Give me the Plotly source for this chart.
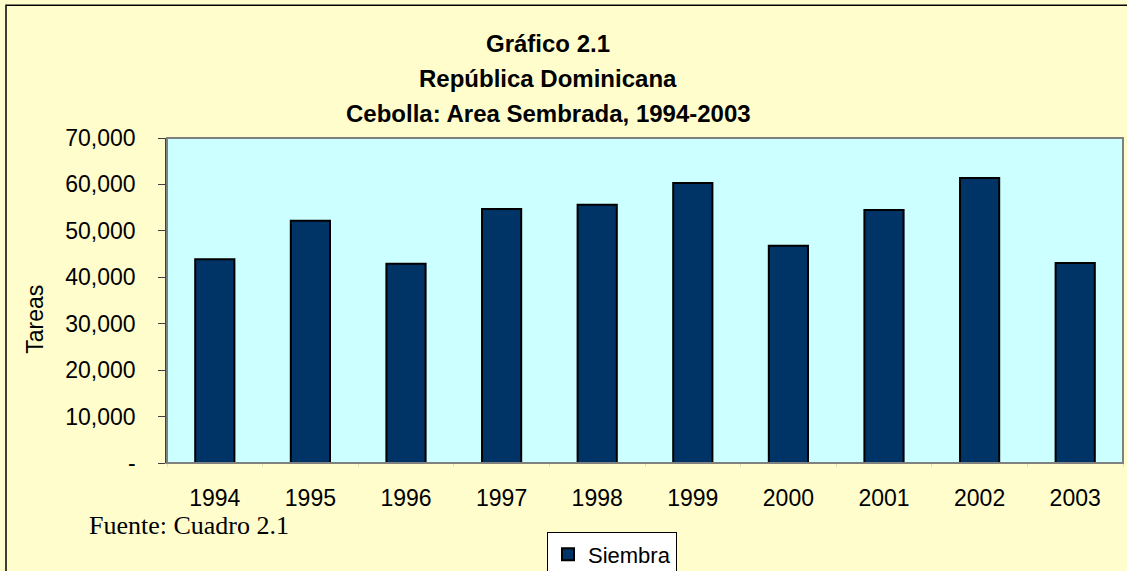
import plotly.graph_objects as go

years = ["1994", "1995", "1996", "1997", "1998", "1999", "2000", "2001", "2002", "2003"]
siembra = [43900, 52200, 42900, 54700, 55600, 60300, 46800, 54500, 61400, 43100]
y_tick_vals = [0, 10000, 20000, 30000, 40000, 50000, 60000, 70000]
y_tick_text = ["-", "10,000", "20,000", "30,000", "40,000", "50,000", "60,000", "70,000"]

W, H = 1127, 571
L, R, T, B = 167, 1123, 138, 463.5
pw, ph = R - L, B - T

def px(x):
    return (x - L) / pw

def py(y):
    return (B - y) / ph

FONT = "Liberation Sans, Arial"

fig = go.Figure()
fig.add_trace(go.Bar(
    x=years, y=siembra, name="Siembra",
    marker=dict(color="#003366", line=dict(color="#000000", width=2)),
    width=0.41,
))

fig.update_layout(
    width=W, height=H,
    margin=dict(l=L, r=W - R, t=T, b=H - B, pad=0, autoexpand=False),
    paper_bgcolor="#FFFDCC",
    plot_bgcolor="#CCFFFF",
    font=dict(family=FONT, size=23, color="#000000"),
    showlegend=True,
    legend=dict(
        x=px(547), y=py(533), xanchor="left", yanchor="top",
        orientation="h", bgcolor="#FFFFFF", bordercolor="#000000", borderwidth=1,
        font=dict(family=FONT, size=22, color="#000000"),
        itemsizing="constant", itemwidth=30, tracegroupgap=0,
    ),
)

fig.update_xaxes(
    type="category", range=[-0.5, 9.5],
    showline=True, linecolor="#A0A0A0", linewidth=1,
    ticks="outside", tickson="boundaries", ticklen=3, tickcolor="#E0E0C0",
    tickfont=dict(size=23), showgrid=False,
    ticklabelstandoff=14,
)
fig.update_yaxes(
    range=[0, 70000], tickvals=y_tick_vals, ticktext=y_tick_text,
    showline=True, linecolor="#404040", linewidth=1.5,
    ticks="outside", ticklen=7, tickcolor="#404040",
    tickfont=dict(size=23), showgrid=False, zeroline=False,
    ticklabelstandoff=18,
)

# plot-area border
fig.add_shape(type="rect", xref="paper", yref="paper", x0=0, y0=0, x1=1, y1=1,
              line=dict(color="#808080", width=2), layer="above")
# outer chart border
fig.add_shape(type="rect", xref="paper", yref="paper",
              x0=px(6), y0=py(600), x1=px(1160), y1=py(5),
              line=dict(color="#000000", width=1.5), layer="above")

title_lines = ["Gráfico 2.1", "República Dominicana", "Cebolla: Area Sembrada, 1994-2003"]
for i, line in enumerate(title_lines):
    fig.add_annotation(text="<b>%s</b>" % line, xref="paper", yref="paper",
                       x=px(548), y=py(43 + 35 * i), xanchor="center", yanchor="middle",
                       showarrow=False, font=dict(family=FONT, size=24))

fig.add_annotation(text="Tareas", xref="paper", yref="paper", textangle=-90,
                   x=px(35), y=py(320), xanchor="center", yanchor="middle",
                   showarrow=False, font=dict(family=FONT, size=23))

fig.add_annotation(text="Fuente: Cuadro 2.1", xref="paper", yref="paper",
                   x=px(87), y=py(526), xanchor="left", yanchor="middle", showarrow=False,
                   font=dict(family="Liberation Serif, Times New Roman", size=26))

fig.write_html(
    "out.html",
    config={"displayModeBar": False},
    post_script="document.body.style.margin='0';document.body.style.overflow='hidden';",
)
